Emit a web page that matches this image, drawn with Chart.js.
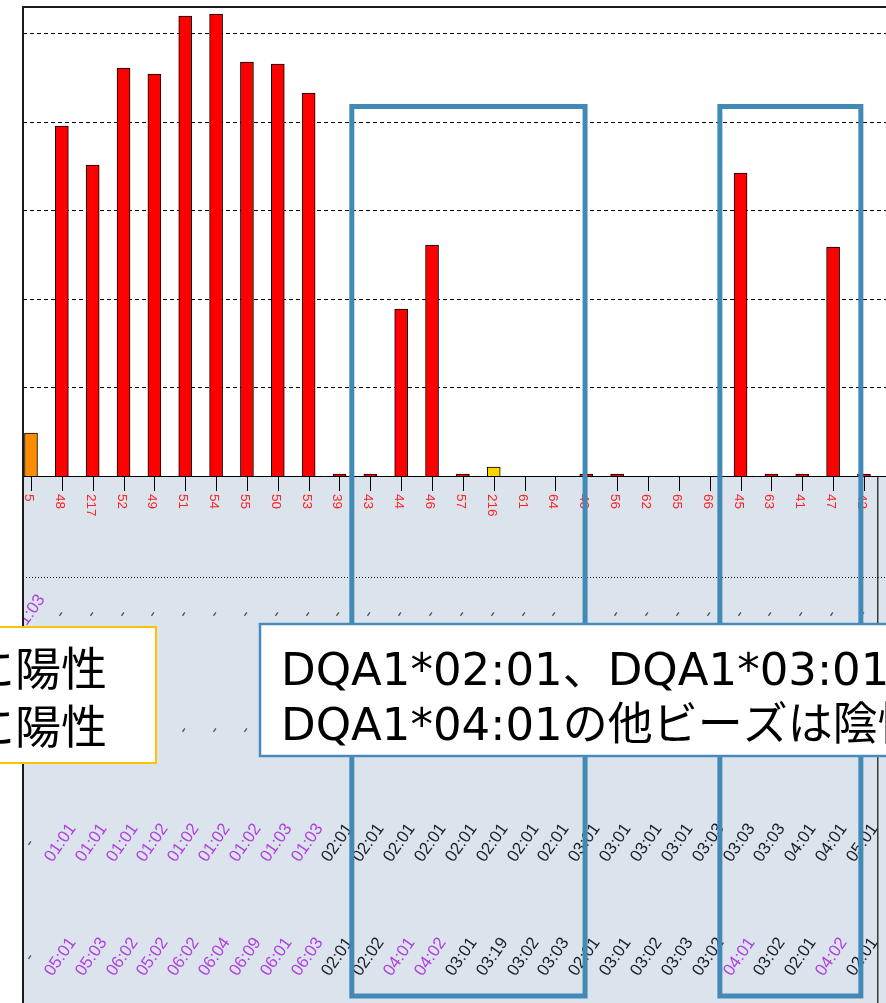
<!DOCTYPE html>
<html>
<head>
<meta charset="utf-8">
<script src="https://cdn.jsdelivr.net/npm/chart.js@4/dist/chart.umd.min.js"></script>
<style>
  html, body { margin: 0; padding: 0; background: #fff; overflow: hidden; }
  canvas { display: block; }
</style>
</head>
<body>
<canvas id="c" width="886" height="1003"></canvas>
<script>
// Bead IDs along the x axis
const beadIds = ['5','48','217','52','49','51','54','55','50','53','39','43','44','46','57','216','61','64','40','56','62','65','66','45','63','41','47','42'];
// Normalised MFI of each bead
const mfi = [970, 7900, 7020, 9210, 9075, 10385, 10430, 9345, 9300, 8645, 45, 45, 3770, 5215, 45, 200, 0, 0, 45, 45, 0, 0, 0, 6840, 45, 45, 5170, 45];
// Bar fill of each bead
const barFill = ['#ff8c00','#ff0000','#ff0000','#ff0000','#ff0000','#ff0000','#ff0000','#ff0000','#ff0000','#ff0000','#ff0000','#ff0000','#ff0000','#ff0000','#ff0000','#ffd400','#ff0000','#ff0000','#ff0000','#ff0000','#ff0000','#ff0000','#ff0000','#ff0000','#ff0000','#ff0000','#ff0000','#ff0000'];
// Allele rows under the axis (top to bottom)
const rowA = ['01:03','-','-','-','-','-','-','-','-','-','-','-','-','-','-','-','-','-','-','-','-','-','-','-','-','-','-','-'];
const rowB = ['-','-','-','-','-','-','-','-','-','-','-','-','-','-','-','-','-','-','-','-','-','-','-','-','-','-','-','-'];
const dqaAlleles = ['-','01:01','01:01','01:01','01:02','01:02','01:02','01:02','01:03','01:03','02:01','02:01','02:01','02:01','02:01','02:01','02:01','02:01','03:01','03:01','03:01','03:01','03:03','03:03','03:03','04:01','04:01','05:01'];
const dqbAlleles = ['-','05:01','05:03','06:02','05:02','06:02','06:04','06:09','06:01','06:03','02:01','02:02','04:01','04:02','03:01','03:19','03:02','03:03','02:01','03:01','03:02','03:03','03:02','04:01','03:02','02:01','04:02','02:01'];
// Ink of each allele label: p = purple, k = dark
const dqaTone = ['k','p','p','p','p','p','p','p','p','p','k','k','k','k','k','k','k','k','k','k','k','k','k','k','k','k','k','k'];
const dqbTone = ['k','p','p','p','p','p','p','p','p','p','k','k','p','p','k','k','k','k','k','k','k','k','k','p','k','k','p','k'];
// Dashed reference levels
const yGrid = [2000, 4000, 6000, 8000, 10000];
// Annotation texts
const noteLeft = ['に陽性', 'に陽性'];
const noteRight = ['DQA1*02:01、DQA1*03:01、', 'DQA1*04:01の他ビーズは陰性'];

const W = 886, H = 1003;
const PURPLE = '#b23fe0', DARK = '#1e1e2a', DASH = '#5e5040';

const panel = {
  id: 'panel',
  beforeDatasetsDraw(chart) {
    const { ctx, chartArea: a, scales: { y } } = chart;
    ctx.save();
    ctx.strokeStyle = '#000';
    ctx.lineWidth = 1;
    ctx.setLineDash([4, 3]);
    yGrid.forEach(v => {
      const py = Math.round(y.getPixelForValue(v)) + 0.5;
      ctx.beginPath();
      ctx.moveTo(a.left, py);
      ctx.lineTo(W, py);
      ctx.stroke();
    });
    ctx.restore();
  },
  afterDraw(chart) {
    const { ctx, chartArea: a, scales: { x } } = chart;
    ctx.save();

    // lower label panel
    ctx.fillStyle = '#dbe4ed';
    ctx.fillRect(a.left, a.bottom + 1, W - a.left, H - a.bottom);
    ctx.fillStyle = '#000';
    ctx.fillRect(a.left, a.bottom, W - a.left, 1);

    // dotted separator
    ctx.strokeStyle = '#000';
    ctx.lineWidth = 1;
    ctx.setLineDash([1, 2]);
    ctx.beginPath();
    ctx.moveTo(a.left, 577.5);
    ctx.lineTo(W, 577.5);
    ctx.stroke();
    ctx.setLineDash([]);

    // right edge of the label panel
    ctx.fillStyle = '#3a3a3a';
    ctx.fillRect(877, a.bottom + 1, 1.5, H - a.bottom);

    ctx.beginPath();
    ctx.rect(a.left + 1, a.bottom + 1, W, H);
    ctx.clip();

    beadIds.forEach((id, i) => {
      const px = Math.round(x.getPixelForValue(i)) + 0.5;
      // tick
      ctx.strokeStyle = '#000';
      ctx.beginPath();
      ctx.moveTo(px, a.bottom + 1);
      ctx.lineTo(px, a.bottom + 15);
      ctx.stroke();
      // bead id, vertical
      ctx.save();
      ctx.translate(px - 3, a.bottom + 18);
      ctx.rotate(Math.PI / 2);
      ctx.fillStyle = '#ff2020';
      ctx.font = '13.5px "Liberation Sans", Arial, sans-serif';
      ctx.textAlign = 'left';
      ctx.textBaseline = 'middle';
      ctx.fillText(id, 0, 0);
      ctx.restore();

      const slanted = (txt, cy, color) => {
        ctx.save();
        ctx.translate(px - 2, cy);
        ctx.rotate(-55 * Math.PI / 180);
        ctx.fillStyle = color;
        ctx.font = '17px "Liberation Sans", Arial, sans-serif';
        ctx.textAlign = 'center';
        ctx.textBaseline = 'middle';
        ctx.fillText(txt, 0, 0);
        ctx.restore();
      };
      slanted(rowA[i], 614, rowA[i] === '-' ? DASH : PURPLE);
      slanted(rowB[i], 730, DASH);
      slanted(dqaAlleles[i], 843, dqaAlleles[i] === '-' ? DASH : (dqaTone[i] === 'p' ? PURPLE : DARK));
      slanted(dqbAlleles[i], 957, dqbAlleles[i] === '-' ? DASH : (dqbTone[i] === 'p' ? PURPLE : DARK));
    });
    ctx.restore();
    ctx.save();

    // frame
    ctx.fillStyle = '#1c1c1c';
    ctx.fillRect(a.left - 1, a.top - 1, 2, H - a.top + 1);
    ctx.fillRect(a.left - 1, a.top - 1, W - a.left + 1, 2);

    // highlighted bead groups
    ctx.strokeStyle = '#4389b8';
    ctx.lineWidth = 5;
    const group = (from, to) => {
      const l = x.getPixelForValue(from), r = x.getPixelForValue(to);
      ctx.strokeRect(l, 106.5, r - l, 889.5);
    };
    group(10.4, 17.96);
    group(22.33, 26.9);

    // note boxes
    ctx.fillStyle = '#fff';
    ctx.fillRect(-5, 627, 161, 136);
    ctx.strokeStyle = '#ffc000';
    ctx.lineWidth = 2;
    ctx.strokeRect(-5, 627, 161, 136);

    ctx.fillStyle = '#fff';
    ctx.fillRect(260, 624, 700, 132);
    ctx.strokeStyle = '#4a8ab8';
    ctx.lineWidth = 2.5;
    ctx.strokeRect(260, 624, 700, 132);

    ctx.fillStyle = '#000';
    ctx.textBaseline = 'alphabetic';
    ctx.font = '46px "Noto Sans CJK JP", sans-serif';
    ctx.textAlign = 'right';
    ctx.fillText(noteLeft[0], 107, 685);
    ctx.fillText(noteLeft[1], 107, 743);
    ctx.font = '45px "DejaVu Sans", "Noto Sans CJK JP", sans-serif';
    ctx.textAlign = 'left';
    ctx.fillText(noteRight[0], 281, 685);
    ctx.fillText(noteRight[1], 281, 740);
    ctx.restore();
  }
};

new Chart(document.getElementById('c'), {
  type: 'bar',
  data: {
    datasets: [{
      data: beadIds.map((id, i) => ({ x: i, y: mfi[i] })),
      backgroundColor: barFill,
      borderColor: '#000',
      borderWidth: 1,
      barThickness: 13
    }]
  },
  options: {
    responsive: false,
    animation: false,
    devicePixelRatio: 1,
    layout: { padding: { left: 23, top: 7, right: 0, bottom: 527 } },
    plugins: { legend: { display: false }, tooltip: { enabled: false } },
    scales: {
      x: { type: 'linear', display: false, offset: false, min: -0.259, max: 27.715, grid: { offset: false } },
      y: { display: false, min: 0, max: 10590 }
    }
  },
  plugins: [panel]
});
</script>
</body>
</html>
